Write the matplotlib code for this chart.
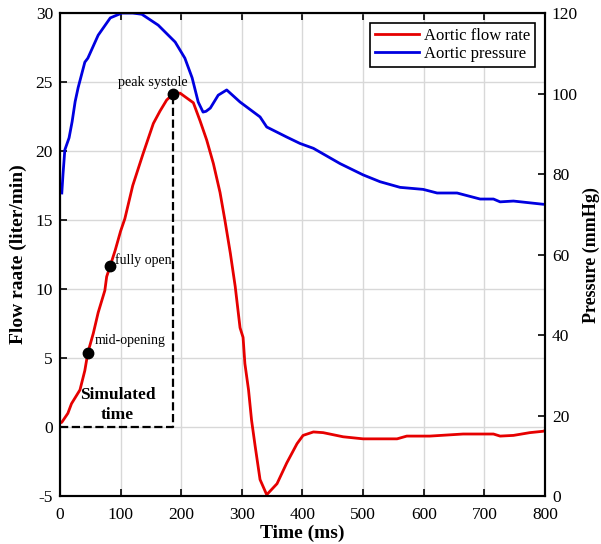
import matplotlib.pyplot as plt

plt.rcParams["font.family"] = "serif"
plt.rcParams["font.serif"] = ["Liberation Serif", "DejaVu Serif"]
plt.rcParams["axes.unicode_minus"] = False

# Aortic flow rate (liter/min) vs time (ms)
flow_t = [0, 3, 13, 19, 33, 41, 46, 55, 63, 74, 77, 83, 91, 100, 107, 120, 137, 154,
          165, 176, 187, 198, 220, 231, 242, 253, 264, 272, 281, 289, 297, 302, 305,
          311, 316, 322, 330, 341, 358, 374, 391, 401, 418, 434, 467, 500, 556, 572,
          610, 665, 715, 726, 748, 775, 797, 800]
flow_v = [0.3, 0.35, 1.0, 1.7, 2.7, 4.1, 5.4, 6.8, 8.3, 9.9, 10.9, 11.7, 12.8, 14.2,
          15.1, 17.5, 19.8, 22.0, 22.9, 23.7, 24.15, 24.2, 23.5, 22.2, 20.8, 19.1,
          17.0, 15.0, 12.6, 10.2, 7.2, 6.5, 4.6, 2.7, 0.5, -1.4, -3.8, -4.9, -4.1,
          -2.6, -1.2, -0.6, -0.35, -0.4, -0.7, -0.85, -0.85, -0.65, -0.65, -0.5, -0.5,
          -0.65, -0.6, -0.4, -0.3, -0.25]

# Aortic pressure (mmHg) vs time (ms)
pres_t = [3, 5, 8, 15, 20, 25, 30, 41, 46, 63, 83, 102, 120, 135, 162, 190, 206, 218,
          228, 236, 241, 248, 261, 275, 297, 330, 341, 374, 396, 418, 462, 500, 528,
          561, 599, 622, 655, 693, 715, 726, 748, 797, 800]
pres_v = [75.3, 80, 86, 89, 93, 98, 101.5, 107.8, 108.8, 114.5, 118.8, 120, 120,
          119.7, 117, 112.8, 108.8, 103.9, 97.9, 95.4, 95.6, 96.4, 99.6, 100.9, 97.9,
          94.2, 91.7, 89.2, 87.6, 86.4, 82.6, 79.8, 78.1, 76.7, 76.2, 75.3, 75.3, 73.8,
          73.8, 73.1, 73.3, 72.5, 72.5]

# marked events on the flow curve
event_t = [46, 83, 187]
event_v = [5.4, 11.7, 24.15]
event_names = ["mid-opening", "fully open", "peak systole"]

fig = plt.figure(figsize=(6.01, 5.44), dpi=100)
ax = fig.add_axes([0.0998, 0.088, 0.807, 0.888])
ax2 = ax.twinx()

l1, = ax.plot(flow_t, flow_v, color="#e60000", lw=2, label="Aortic flow rate")
l2, = ax2.plot(pres_t, pres_v, color="#0000e0", lw=2, label="Aortic pressure")

ax.plot(event_t, event_v, "o", color="black", ms=7.5, zorder=5)

# simulated time box
ax.plot([0, event_t[2], event_t[2]], [0, 0, event_v[2]], "k--", lw=1.6, zorder=4)
ax.text(95, 1.6, "Simulated\ntime", ha="center", va="center", fontsize=12.5,
        fontweight="bold", linespacing=1.3)

ax.text(57, 6.3, event_names[0], ha="left", va="center", fontsize=10)
ax.text(90, 12.1, event_names[1], ha="left", va="center", fontsize=10)
ax.text(153, 25.0, event_names[2], ha="center", va="center", fontsize=10.3)

ax.set_xlim(0, 800)
ax.set_ylim(-5, 30)
ax2.set_ylim(0, 120)
ax.set_xticks(range(0, 801, 100))
ax.set_yticks(range(-5, 31, 5))
ax2.set_yticks(range(0, 121, 20))

ax.grid(True, color="#d8d8d8", lw=1)
ax.set_axisbelow(True)

ax.tick_params(direction="in", labelsize=12.5, top=True, width=1.2, length=5)
ax.tick_params(axis="x", pad=8)
ax.tick_params(axis="y", pad=5)
ax2.tick_params(direction="in", labelsize=12.5, width=1.2, length=5, pad=5)
for a in (ax, ax2):
    for s in a.spines.values():
        s.set_linewidth(1.5)

ax.set_xlabel("Time (ms)", fontsize=14, fontweight="bold", labelpad=1)
ax.set_ylabel("Flow raate (liter/min)", fontsize=14, fontweight="bold", labelpad=6)
ax2.set_ylabel("Pressure (mmHg)", fontsize=13, fontweight="bold", labelpad=3)

leg = ax.legend(handles=[l1, l2], loc="upper right", fontsize=12, fancybox=False,
                framealpha=1, edgecolor="black", borderpad=0.3, handlelength=2.6,
                handletextpad=0.3, labelspacing=0.12, borderaxespad=0.6)
leg.get_frame().set_linewidth(1.2)

fig.savefig("out.png", dpi=100)
